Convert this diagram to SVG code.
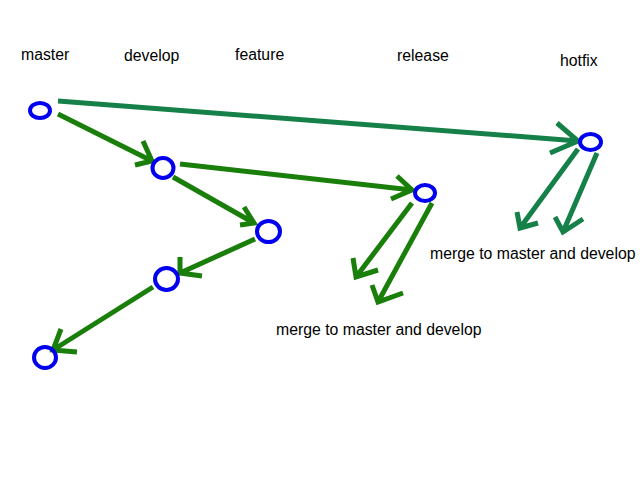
<svg xmlns="http://www.w3.org/2000/svg" width="640" height="480" viewBox="0 0 640 480">
<style>
.lbl{font-family:"Liberation Sans",Arial,sans-serif;font-size:15.8px;fill:#000}
.node{fill:none;stroke:#0000ee;stroke-width:4}
.g{fill:none;stroke:#1a7f0a;stroke-width:5;stroke-linecap:butt;stroke-linejoin:miter}
.t{fill:none;stroke:#158048;stroke-width:5;stroke-linecap:butt;stroke-linejoin:miter}
</style>
<rect width="640" height="480" fill="#fff"/>
<g id="labels">
<text class="lbl" x="21" y="60">master</text>
<text class="lbl" x="124" y="61">develop</text>
<text class="lbl" x="235" y="60">feature</text>
<text class="lbl" x="397" y="61">release</text>
<text class="lbl" x="560" y="66">hotfix</text>
<text class="lbl" x="430" y="259">merge to master and develop</text>
<text class="lbl" x="276" y="335">merge to master and develop</text>
</g>
<g id="connectors">
<path class="t" d="M58,101 L578,141 M557,123 L578,141 L550,153"/>
<path class="g" d="M58,114 L152,161 M143,141 L152,161 L135,165"/>
<path class="g" d="M180,164 L412,190 M397,176 L412,190 L391,199"/>
<path class="g" d="M173,177 L254,223 M244,207 L254,223 L240,225"/>
<path class="g" d="M255,239 L180,273 M180,257 L180,273 L202,276"/>
<path class="g" d="M153,287 L53,350 M61,329 L53,350 L77,352"/>
<path class="g" d="M412,203 L356,277 M353,258 L356,277 L378,270"/>
<path class="g" d="M432,203 L378,302 M372,285 L378,302 L403,293"/>
<path class="t" d="M578,149 L520,228 M517,212 L520,228 L538,223"/>
<path class="t" d="M597,153 L563,232 M555,217 L563,232 L583,219"/>
</g>
<g id="n-master"><ellipse class="node" cx="40" cy="110.5" rx="10" ry="7.5"/></g>
<g id="n-develop"><ellipse class="node" cx="163" cy="168" rx="10.5" ry="10"/></g>
<g id="n-feature"><ellipse class="node" cx="268.5" cy="231.5" rx="11.5" ry="10.5"/></g>
<g id="n-feature2"><ellipse class="node" cx="166.5" cy="279" rx="11.5" ry="11"/></g>
<g id="n-end"><ellipse class="node" cx="45" cy="357.5" rx="11" ry="10.5"/></g>
<g id="n-release"><ellipse class="node" cx="425" cy="193" rx="10" ry="8"/></g>
<g id="n-hotfix"><ellipse class="node" cx="590.5" cy="142" rx="10.5" ry="8"/></g>
</svg>
